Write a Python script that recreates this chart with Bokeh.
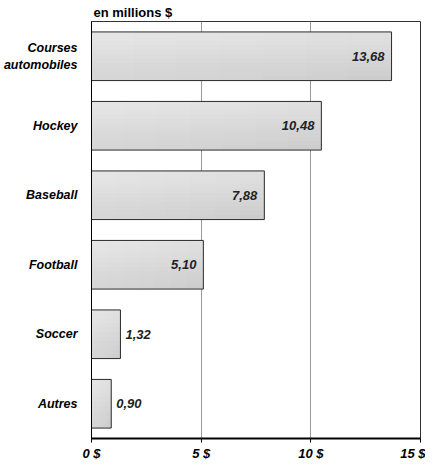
from bokeh.plotting import figure
from bokeh.models import ColumnDataSource, FactorRange, Range1d, FixedTicker, Title
from bokeh.core.properties import value
from bokeh.transform import dodge
from bokeh.embed import file_html
from bokeh.resources import INLINE

categories = ["Courses\nautomobiles", "Hockey", "Baseball", "Football", "Soccer", "Autres"]
values = [13.68, 10.48, 7.88, 5.10, 1.32, 0.90]
tick_values = [0, 5, 10, 15]
tick_labels = ["0 $", "5 $", "10 $", "15 $"]
title_text = "en millions $"

FONT = "Liberation Sans"
BAR_H = 0.7

labels = [f"{v:.2f}".replace(".", ",") for v in values]
inside = [v >= 5 for v in values]

src_in = ColumnDataSource(dict(
    y=[c for c, i in zip(categories, inside) if i],
    x=[v for v, i in zip(values, inside) if i],
    t=[l for l, i in zip(labels, inside) if i],
))
src_out = ColumnDataSource(dict(
    y=[c for c, i in zip(categories, inside) if not i],
    x=[v for v, i in zip(values, inside) if not i],
    t=[l for l, i in zip(labels, inside) if not i],
))
src = ColumnDataSource(dict(y=categories, x=values))

p = figure(frame_width=329, frame_height=417, output_backend="svg", toolbar_location=None,
           y_range=FactorRange(factors=list(reversed(categories)), range_padding=0),
           x_range=Range1d(0, 15),
           min_border_left=83, min_border_right=5, min_border_top=0, min_border_bottom=0)

p.title = Title(text=title_text, text_font=FONT, text_font_size="13px",
                text_font_style="bold", align="left", offset=2, standoff=4,
                text_color="black")

# base fill of the bars
p.hbar(y="y", right="x", left=0, height=BAR_H, source=src,
       fill_color="#cdcdcd", line_color=None)

# soft shading: lighter towards the top
n_v = 10
for k in range(n_v):
    h = BAR_H * (1 - (k + 1) / (n_v + 1))
    p.hbar(y=dodge("y", BAR_H / 2 - h / 2, range=p.y_range), right="x", left=0,
           height=h, source=src, fill_color="white", fill_alpha=0.055, line_color=None)

# soft shading: lighter towards the left
n_h = 6
for k in range(n_h):
    frac = 1 - (k + 1) / (n_h + 1)
    src_f = ColumnDataSource(dict(y=categories, x=[v * frac for v in values]))
    p.hbar(y="y", right="x", left=0, height=BAR_H, source=src_f,
           fill_color="white", fill_alpha=0.045, line_color=None)

# bar outlines
p.hbar(y="y", right="x", left=0, height=BAR_H, source=src,
       fill_color=None, line_color="#2a2a2a", line_width=1)

p.text(x="x", y="y", text="t", source=src_in, x_offset=-7,
       text_align="right", text_baseline="middle",
       text_font=value(FONT), text_font_size="13px", text_font_style="bold italic",
       text_color="#222222")
p.text(x="x", y="y", text="t", source=src_out, x_offset=5,
       text_align="left", text_baseline="middle",
       text_font=value(FONT), text_font_size="13px", text_font_style="bold italic",
       text_color="#222222")

p.outline_line_color = "#333333"
p.outline_line_width = 1
p.background_fill_color = "white"
p.border_fill_color = "white"

p.ygrid.grid_line_color = None
p.xgrid.grid_line_color = "#999999"
p.xgrid.grid_line_width = 1
p.xgrid.ticker = FixedTicker(ticks=tick_values)

p.xaxis.ticker = FixedTicker(ticks=tick_values)
p.xaxis.major_label_overrides = {t: l for t, l in zip(tick_values, tick_labels)}
p.xaxis.axis_line_color = "black"
p.xaxis.axis_line_width = 2
p.xaxis.major_tick_line_color = "black"
p.xaxis.major_tick_line_width = 1
p.xaxis.major_tick_in = 0
p.xaxis.major_tick_out = 4
p.xaxis.minor_tick_line_color = None
p.xaxis.major_label_text_font = FONT
p.xaxis.major_label_text_font_size = "13px"
p.xaxis.major_label_text_font_style = "bold italic"
p.xaxis.major_label_text_color = "black"
p.xaxis.major_label_standoff = 3

p.yaxis.axis_line_color = "black"
p.yaxis.axis_line_width = 1
p.yaxis.major_tick_line_color = None
p.yaxis.minor_tick_line_color = None
p.yaxis.major_label_text_font = FONT
p.yaxis.major_label_text_font_size = "12.5px"
p.yaxis.major_label_text_font_style = "bold italic"
p.yaxis.major_label_text_color = "black"
p.yaxis.major_label_standoff = 8

open("out.html", "w").write(file_html(p, INLINE))
